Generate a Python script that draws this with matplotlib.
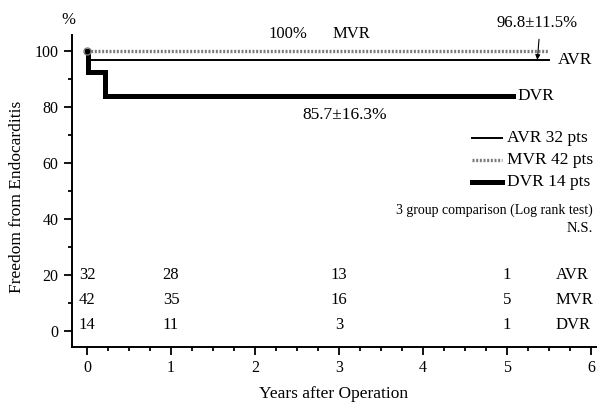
import matplotlib
matplotlib.use('Agg')
import matplotlib.pyplot as plt
from matplotlib.ticker import MultipleLocator

plt.rcParams['font.family'] = ['Liberation Serif', 'DejaVu Serif']

# Kaplan-Meier step curves (years, freedom %)
avr_t = [0, 0.02, 5.5]
avr_s = [100, 96.8, 96.8]
mvr_t = [0, 5.5]
mvr_s = [100, 100]
dvr_t = [0, 0.01, 0.21, 5.07]
dvr_s = [100, 92.5, 84.0, 84.0]

# patients at risk
risk_years = [0, 1, 3, 5]
risk_groups = ['AVR', 'MVR', 'DVR']
risk_counts = {
    'AVR': [32, 28, 13, 1],
    'MVR': [42, 35, 16, 5],
    'DVR': [14, 11, 3, 1],
}
risk_rows_y = [20, 11, 2.2]

legend_labels = ['AVR 32 pts', 'MVR 42 pts', 'DVR 14 pts']

fig = plt.figure(figsize=(6.04, 4.04), dpi=100)
ax = fig.add_axes([0.119, 0.141, 0.868, 0.772])

avr_style = dict(color='black', lw=1.4)
mvr_style = dict(color='#7a7a7a', lw=2.4, linestyle=(0, (0.6, 0.5)))
dvr_style = dict(color='black', lw=3.6, solid_joinstyle='miter')

ax.step(mvr_t, mvr_s, where='post', **mvr_style)
ax.step(avr_t, avr_s, where='post', **avr_style)
ax.step(dvr_t, dvr_s, where='post', **dvr_style)
ax.plot([0], [100], 'o', ms=5, mfc='none', mec='#777777', mew=1)

ax.set_xlim(-0.18, 6.06)
ax.set_ylim(-5.7, 105.7)
ax.set_xticks(range(0, 7))
ax.set_yticks(range(0, 101, 20))
ax.xaxis.set_minor_locator(MultipleLocator(0.25))
ax.yaxis.set_minor_locator(MultipleLocator(10))
ax.tick_params(which='major', direction='out', length=5.5, width=1.3, labelsize=11.5, pad=4)
ax.tick_params(which='minor', direction='out', length=3, width=1.3)
for s in ['top', 'right']:
    ax.spines[s].set_visible(False)
for s in ['left', 'bottom']:
    ax.spines[s].set_linewidth(1.4)

ax.set_xlabel('Years after Operation', fontsize=12.5)
ax.xaxis.set_label_coords(0.5, -0.125)
ax.set_ylabel('Freedom from Endocarditis', fontsize=12.5)
ax.yaxis.set_label_coords(-0.09, 0.48)
fig.text(68 / 604, 1 - 20 / 404, '%', fontsize=12, ha='center', va='center')

# curve annotations
ax.text(2.39, 106, '100%', fontsize=12, ha='center', va='center')
ax.text(3.15, 106, 'MVR', fontsize=12, ha='center', va='center')
ax.text(5.36, 110, '96.8\u00b111.5%', fontsize=12, ha='center', va='center')
ax.annotate('', xy=(5.36, 96.9), xytext=(5.38, 104.2),
            arrowprops=dict(arrowstyle='-|>', lw=0.8, color='black',
                            mutation_scale=7, shrinkA=0, shrinkB=0))
ax.text(5.6, 96.8, 'AVR', fontsize=12.5, ha='left', va='center')
ax.text(5.12, 84.0, 'DVR', fontsize=12.5, ha='left', va='center')
ax.text(3.07, 77, '85.7\u00b116.3%', fontsize=12.5, ha='center', va='center')

# legend drawn by hand
for lab, st, yy in zip(legend_labels, [avr_style, mvr_style, dvr_style], [69, 61.2, 53.3]):
    ax.plot([4.58, 4.94], [yy, yy], **st)
    ax.text(5.0, yy, lab, fontsize=12.5, ha='left', va='center')

ax.text(6.02, 43.2, '3 group comparison (Log rank test)', fontsize=10, ha='right', va='center')
ax.text(6.02, 36.8, 'N.S.', fontsize=10.5, ha='right', va='center')

# numbers at risk
for g, yy in zip(risk_groups, risk_rows_y):
    for yr, n in zip(risk_years, risk_counts[g]):
        ax.text(yr, yy, str(n), fontsize=12, ha='center', va='center')
    ax.text(5.58, yy, g, fontsize=12, ha='left', va='center')

fig.savefig('out.png', dpi=100)
